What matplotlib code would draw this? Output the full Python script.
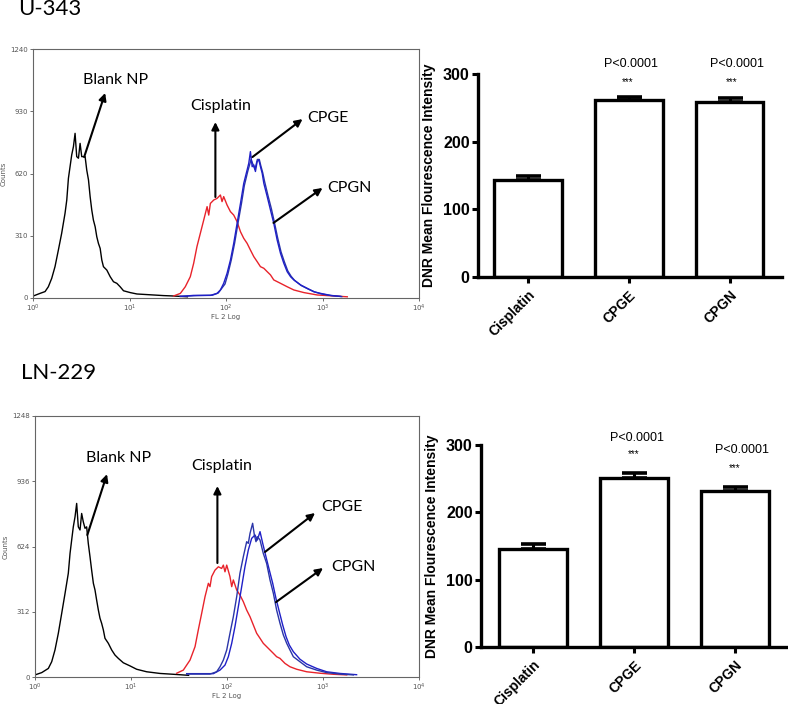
import numpy as np
import matplotlib
matplotlib.use("Agg")
import matplotlib.pyplot as plt

# ---------------- DATA ----------------
# Flow cytometry histograms: positions in log10(FL2) decades, counts
# U-343
u_blank_log = [0.003, 0.073, 0.125, 0.159, 0.194, 0.228, 0.263, 0.297, 0.332, 0.35, 0.367, 0.384, 0.401, 0.419,
               0.436, 0.453, 0.471, 0.488, 0.505, 0.54, 0.557, 0.575, 0.592, 0.609, 0.626, 0.644, 0.661, 0.678,
               0.696, 0.713, 0.73, 0.765, 0.8, 0.834, 0.869, 0.903, 0.938, 1.007, 1.077, 1.181, 1.353, 1.457, 1.6]
u_blank_cnt = [10, 23, 32, 56, 98, 156, 239, 322, 422, 488, 596, 654, 712, 754,
               820, 704, 696, 770, 704, 704, 637, 588, 505, 438, 388, 355, 305, 272,
               247, 189, 156, 139, 106, 81, 73, 56, 36, 27, 20, 17, 12, 10, 6]
u_cis_log = [1.457, 1.527, 1.578, 1.63, 1.665, 1.699, 1.734, 1.769, 1.804, 1.821, 1.838, 1.873, 1.907, 1.942,
             1.959, 1.976, 2.011, 2.046, 2.08, 2.115, 2.15, 2.184, 2.219, 2.253, 2.288, 2.323, 2.357, 2.392,
             2.427, 2.461, 2.495, 2.565, 2.634, 2.703, 2.807, 2.946, 3.118, 3.257]
u_cis_cnt = [10, 23, 56, 106, 173, 256, 322, 388, 455, 413, 471, 488, 496, 513,
             480, 505, 463, 430, 413, 380, 330, 297, 272, 239, 206, 181, 156, 148,
             131, 115, 90, 73, 56, 40, 27, 15, 10, 6]
u_cpge_log = [1.527, 1.665, 1.838, 1.907, 1.942, 1.976, 2.011, 2.046, 2.08, 2.115, 2.15, 2.184, 2.219, 2.236,
              2.253, 2.271, 2.288, 2.305, 2.323, 2.34, 2.357, 2.375, 2.392, 2.427, 2.461, 2.495, 2.53, 2.565,
              2.599, 2.634, 2.669, 2.703, 2.773, 2.842, 2.911, 2.98, 3.084, 3.188]
u_cpge_cnt = [8, 13, 13, 23, 40, 73, 123, 189, 272, 372, 471, 571, 638, 671,
              729, 654, 663, 630, 680, 688, 654, 621, 571, 505, 438, 372, 289, 222,
              173, 131, 106, 90, 65, 48, 31, 23, 13, 8]
u_cpgn_log = [1.527, 1.7, 1.86, 1.92, 1.99, 2.02, 2.055, 2.09, 2.125, 2.16, 2.19, 2.225, 2.26, 2.28,
              2.3, 2.325, 2.345, 2.36, 2.38, 2.4, 2.435, 2.47, 2.5, 2.535, 2.57, 2.605, 2.64, 2.675,
              2.71, 2.78, 2.85, 2.92, 2.99, 3.09, 3.2]
u_cpgn_cnt = [8, 12, 14, 25, 70, 120, 190, 275, 375, 470, 560, 630, 690, 665,
              640, 690, 690, 660, 625, 580, 510, 445, 380, 300, 230, 180, 135, 108,
              88, 62, 45, 30, 20, 12, 7]
# LN-229
l_blank_log = [0.0, 0.07, 0.139, 0.174, 0.208, 0.243, 0.278, 0.313, 0.347, 0.365, 0.382, 0.399, 0.417, 0.434,
               0.451, 0.469, 0.486, 0.503, 0.521, 0.538, 0.555, 0.573, 0.59, 0.608, 0.625, 0.642, 0.66, 0.677,
               0.694, 0.712, 0.729, 0.764, 0.799, 0.833, 0.868, 0.92, 0.99, 1.059, 1.163, 1.302, 1.441, 1.6]
l_blank_cnt = [10, 21, 41, 73, 129, 209, 304, 400, 496, 591, 655, 718, 766, 830,
               718, 703, 782, 742, 711, 718, 639, 575, 511, 448, 416, 368, 320, 281,
               257, 225, 185, 161, 129, 105, 89, 68, 53, 37, 25, 17, 13, 8]
l_cis_log = [1.476, 1.545, 1.615, 1.667, 1.701, 1.736, 1.771, 1.806, 1.823, 1.84, 1.875, 1.91, 1.944, 1.962,
             1.979, 1.997, 2.031, 2.049, 2.066, 2.101, 2.135, 2.17, 2.205, 2.24, 2.274, 2.309, 2.344, 2.378,
             2.413, 2.448, 2.483, 2.517, 2.552, 2.604, 2.656, 2.726, 2.83, 2.969, 3.107, 3.247]
l_cis_cnt = [18, 33, 81, 145, 225, 304, 384, 448, 432, 480, 511, 527, 519, 535,
             503, 535, 480, 432, 464, 416, 392, 360, 320, 288, 249, 209, 185, 161,
             145, 129, 113, 97, 89, 65, 49, 37, 25, 18, 13, 10]
l_cpge_log = [1.58, 1.823, 1.892, 1.927, 1.962, 1.997, 2.031, 2.066, 2.101, 2.135, 2.17, 2.205, 2.222, 2.24,
              2.267, 2.285, 2.302, 2.319, 2.344, 2.378, 2.413, 2.448, 2.483, 2.517, 2.552, 2.587, 2.622, 2.656,
              2.691, 2.76, 2.83, 2.934, 3.038, 3.177, 3.316]
l_cpge_cnt = [14, 14, 25, 49, 81, 129, 209, 288, 384, 496, 575, 647, 639, 687,
              735, 679, 647, 671, 655, 591, 543, 464, 400, 320, 257, 201, 161, 129,
              97, 73, 49, 33, 21, 14, 10]
l_cpgn_log = [1.58, 1.858, 1.927, 1.979, 2.014, 2.049, 2.083, 2.118, 2.153, 2.187, 2.222, 2.257, 2.292, 2.316,
              2.344, 2.372, 2.406, 2.441, 2.476, 2.51, 2.545, 2.58, 2.615, 2.649, 2.691, 2.76, 2.83, 2.934,
              3.038, 3.177, 3.35]
l_cpgn_cnt = [16, 16, 33, 57, 97, 161, 241, 336, 432, 527, 607, 663, 679, 655,
              695, 639, 575, 511, 448, 376, 312, 249, 193, 153, 121, 85, 62, 41,
              25, 17, 11]

# Bar charts
bar_categories = ["Cisplatin", "CPGE", "CPGN"]
u_bar_means = [143, 261.5, 258.5]
u_bar_err = [6, 4.5, 5.5]
l_bar_means = [145.5, 251, 231.5]
l_bar_err = [7.5, 7, 6]
p_label = "P<0.0001"
star_label = "***"
u_y_ticks = [0, 310, 620, 930, 1240]
l_y_ticks = [0, 312, 624, 936, 1248]
x_tick_labels = [r"$10^{0}$", r"$10^{1}$", r"$10^{2}$", r"$10^{3}$", r"$10^{4}$"]

# ---------------- FIGURE ----------------
fig = plt.figure(figsize=(7.88, 7.04), dpi=100)
ANN_FONT = "Lato"
BAR_FONT = "Liberation Sans"
RED = "#e8232b"
BLUE1 = "#1f1fc8"
BLUE2 = "#2a35a8"


def hist_panel(rect, ymax, yticks, curves, ann):
    ax = fig.add_axes(rect)
    for xs, ys, c in curves:
        ax.plot(10 ** np.array(xs), ys, color=c, lw=1.0)
    ax.set_xscale("log")
    ax.set_xlim(1, 1e4)
    ax.set_ylim(0, ymax)
    ax.set_xticks([1, 10, 100, 1000, 10000])
    ax.set_xticklabels(x_tick_labels)
    ax.minorticks_off()
    ax.set_yticks(yticks)
    ax.set_yticklabels([str(t) for t in yticks])
    ax.tick_params(labelsize=5, colors="#555555", length=2.5, width=0.6, pad=1)
    for s in ax.spines.values():
        s.set_color("#666666")
        s.set_linewidth(0.8)
    ax.set_ylabel("Counts", fontsize=5, color="#555555", labelpad=3)
    ax.set_xlabel("FL 2 Log", fontsize=5, color="#555555", labelpad=0)
    for text, tpos, start, end in ann:
        ax.annotate("", xy=(10 ** end[0], end[1]), xytext=(10 ** start[0], start[1]),
                    arrowprops=dict(arrowstyle="-|>", lw=1.5, color="black", mutation_scale=11,
                                    shrinkA=0, shrinkB=0))
        ax.text(10 ** tpos[0], tpos[1], text, fontsize=11.5, family=ANN_FONT,
                ha="center", va="center", color="black")
    return ax


def bar_panel(rect, means, errs, xlim, ptexts):
    ax = fig.add_axes(rect)
    x = np.arange(len(bar_categories))
    ax.errorbar(x, means, yerr=[np.zeros(len(means)), errs], fmt="none", ecolor="black",
                elinewidth=2.2, capsize=9, capthick=2.6, zorder=1)
    ax.bar(x, means, width=0.67, color="white", edgecolor="black", linewidth=2.4, zorder=2)
    ax.set_xlim(*xlim)
    ax.set_ylim(0, 300)
    ax.set_yticks([0, 100, 200, 300])
    ax.set_xticks(x)
    ax.set_xticklabels(bar_categories, rotation=45, ha="right", rotation_mode="anchor",
                       fontsize=10, fontweight="bold", family=BAR_FONT)
    for lab in ax.get_yticklabels():
        lab.set_fontweight("bold")
        lab.set_family(BAR_FONT)
        lab.set_fontsize(11.5)
    ax.tick_params(width=2.2, length=4, pad=2)
    ax.tick_params(axis="x", pad=4)
    for s in ["top", "right"]:
        ax.spines[s].set_visible(False)
    for s in ["left", "bottom"]:
        ax.spines[s].set_linewidth(2.4)
    ax.set_ylabel("DNR Mean Flourescence Intensity", fontsize=10, fontweight="bold",
                  family=BAR_FONT, labelpad=5)
    for (px, py, sx, sy) in ptexts:
        ax.text(px, py, p_label, fontsize=9, family=BAR_FONT, ha="center", va="center", clip_on=False)
        ax.text(sx, sy, star_label, fontsize=7, family=BAR_FONT, ha="center", va="center", clip_on=False)
    return ax


# ---- U-343 ----
fig.text(18 / 788, 1 - 9 / 704, "U-343", fontsize=16, family=ANN_FONT, ha="left", va="center")
hist_panel([33 / 788, 1 - 298 / 704, 386 / 788, 249 / 704], 1240, u_y_ticks,
           [(u_blank_log, u_blank_cnt, "black"), (u_cis_log, u_cis_cnt, RED),
            (u_cpgn_log, u_cpgn_cnt, BLUE2), (u_cpge_log, u_cpge_cnt, BLUE1)],
           [("Blank NP", (0.857, 1086), (0.53, 702), (0.748, 1021)),
            ("Cisplatin", (1.94, 956), (1.89, 503), (1.89, 876)),
            ("CPGE", (3.053, 896), (2.274, 702), (2.793, 891)),
            ("CPGN", (3.276, 548), (2.492, 374), (3.0, 548))])
bar_panel([478 / 788, 1 - 277 / 704, 304 / 788, 203 / 704], u_bar_means, u_bar_err, (-0.495, 2.52),
          [(1.02, 315, 0.99, 288), (2.07, 315, 2.02, 288)])

# ---- LN-229 ----
fig.text(21 / 788, 1 - 373 / 704, "LN-229", fontsize=16, family=ANN_FONT, ha="left", va="center")
hist_panel([35 / 788, 1 - 677 / 704, 384 / 788, 261 / 704], 1248, l_y_ticks,
           [(l_blank_log, l_blank_cnt, "black"), (l_cis_log, l_cis_cnt, RED),
            (l_cpgn_log, l_cpgn_cnt, BLUE1), (l_cpge_log, l_cpge_cnt, BLUE2)],
           [("Blank NP", (0.875, 1047), (0.545, 679), (0.75, 970)),
            ("Cisplatin", (1.945, 1009), (1.9, 545), (1.9, 913)),
            ("CPGE", (3.2, 813), (2.396, 598), (2.917, 784)),
            ("CPGN", (3.32, 526), (2.51, 358), (3.0, 521))])
bar_panel([481 / 788, 1 - 647 / 704, 307 / 788, 202 / 704], l_bar_means, l_bar_err, (-0.51, 2.52),
          [(1.03, 310, 1.0, 287), (2.07, 292.6, 1.99, 266)])

fig.savefig("out.png", dpi=100)
